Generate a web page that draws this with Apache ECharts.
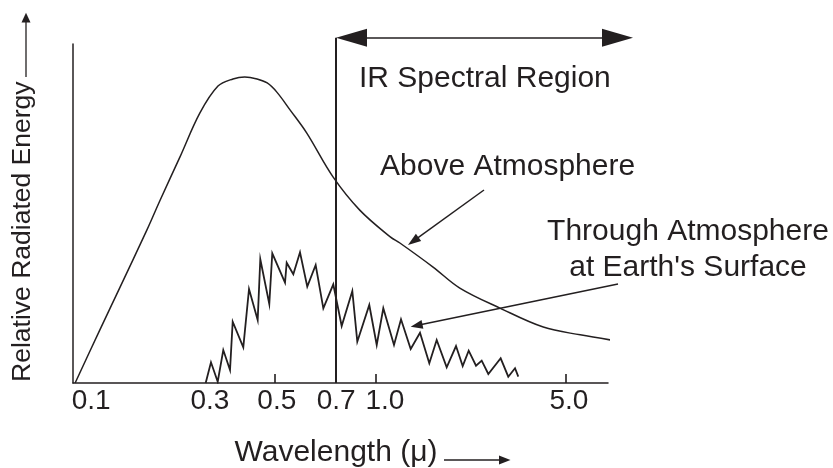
<!DOCTYPE html>
<html>
<head>
<meta charset="utf-8">
<script src="https://cdn.jsdelivr.net/npm/echarts@6/dist/echarts.min.js"></script>
<style>
html,body{margin:0;padding:0;background:#fff;}
#chart{width:833px;height:468px;}
</style>
</head>
<body>
<div id="chart"></div>
<script>
// ---- Data (schematic x position units 0..100, relative energy 0..100) ----
const aboveX = [0.4, 5.0, 8.8, 13.8, 16.3, 20.0, 23.7, 27.1, 29.9, 32.1, 34.4, 36.3, 38.1, 40.6, 43.7, 48.6, 53.6, 59.3, 61.1, 67.3, 72.3, 79.8, 87.9, 94.8, 101.7];
const aboveY = [0, 15.6, 28.3, 45.1, 54.0, 66.7, 79.6, 87.6, 89.7, 90.3, 89.7, 88.5, 85.8, 80.5, 73.7, 60.8, 51.0, 43.1, 41.3, 34.2, 28.0, 22.1, 16.5, 14.2, 12.4];

const throughX = [24.8, 25.79, 27.05, 28.09, 29.35, 29.85, 31.83, 32.90, 34.52, 35.01, 36.69, 37.25, 39.63, 39.94, 41.18, 42.43, 43.79, 45.36, 46.79, 48.65, 50.22, 52.21, 53.14, 55.38, 56.77, 58.00, 60.00, 61.31, 63.12, 64.86, 66.60, 67.98, 69.85, 71.59, 72.84, 73.96, 75.33, 76.39, 77.63, 79.94, 81.36, 82.62, 83.23];
const throughY = [0, 6.11, 0.38, 9.73, 3.83, 18.08, 10.53, 27.73, 18.58, 36.49, 23.30, 38.26, 29.59, 35.49, 32.06, 38.55, 28.41, 34.81, 22.04, 29.12, 16.81, 27.14, 12.18, 23.01, 11.21, 22.04, 11.21, 18.79, 10.03, 14.84, 5.81, 12.68, 4.63, 10.91, 5.01, 9.53, 5.10, 6.58, 2.65, 7.29, 1.86, 4.34, 1.86];

const tickLabels = ['0.1', '0.3', '0.5', '0.7', '1.0', '5.0'];
const tickLabelPos = [3.4, 25.6, 38.1, 49.2, 58.3, 92.7];
const tickMarkPos = [37.8, 56.6, 92.1];

const irBoundaryX = 49.16;   // 0.7 micron boundary
const irArrowY = 101.86;
const irArrowEnds = [52.06, 101.78];
const aboveArrow = [[76.82, 56.93], [63.60, 41.83]];
const throughArrow = [[101.87, 29.2], [64.22, 16.96]];

const INK = '#231f20';
const FONT = '"Liberation Sans", Arial, sans-serif';

// main plot: x 0..100 over 535px, y 0..100 over 339px
// annotation overlay uses same scale, extended range (x 0..105, y 0..104)
const PX_X = 5.35, PX_Y = 3.39;
const overlayXMax = 105, overlayYMax = 104;

const chart = echarts.init(document.getElementById('chart'), null, {renderer: 'canvas'});

const option = {
  animation: false,
  backgroundColor: '#ffffff',
  grid: [
    {left: 73, right: 225, top: 44, bottom: 85, containLabel: false, outerBoundsMode: 'none'},
    {left: 73, right: 833 - 73 - overlayXMax * PX_X, top: 383 - overlayYMax * PX_Y, bottom: 85, containLabel: false, outerBoundsMode: 'none'}
  ],
  xAxis: [{
    gridIndex: 0, type: 'value', min: 0, max: 100,
    axisLine: {show: true, lineStyle: {color: INK, width: 1.5}},
    axisTick: {show: true, inside: true, length: 9, customValues: tickMarkPos, lineStyle: {color: INK, width: 1.6}},
    axisLabel: {
      show: true, customValues: tickLabelPos, hideOverlap: false, margin: 4,
      color: INK, fontSize: 28, fontFamily: FONT,
      formatter: function (v) {
        const i = tickLabelPos.findIndex(p => Math.abs(p - v) < 1e-6);
        return i >= 0 ? tickLabels[i] : '';
      }
    },
    splitLine: {show: false},
    name: 'Wavelength (\u03bc)', nameLocation: 'middle', nameGap: 55, nameMoveOverlap: false,
    nameTextStyle: {color: INK, fontSize: 30, fontFamily: FONT, padding: [0, 9, 0, 0]}
  }, {
    gridIndex: 1, type: 'value', min: 0, max: overlayXMax, show: false
  }],
  yAxis: [{
    gridIndex: 0, type: 'value', min: 0, max: 100,
    axisLine: {show: true, lineStyle: {color: INK, width: 1.5}},
    axisTick: {show: false},
    axisLabel: {show: false},
    splitLine: {show: false}
  }, {
    gridIndex: 1, type: 'value', min: 0, max: overlayYMax, show: false
  }],
  series: [
    {
      name: 'Above Atmosphere', type: 'line', clip: false,
      xAxisIndex: 0, yAxisIndex: 0,
      data: aboveX.map((x, i) => [x, aboveY[i]]),
      smooth: 0.35, showSymbol: false, symbol: 'none',
      lineStyle: {color: INK, width: 1.5},
      silent: true
    },
    {
      name: "Through Atmosphere at Earth's Surface", type: 'line',
      xAxisIndex: 0, yAxisIndex: 0,
      data: throughX.map((x, i) => [x, throughY[i]]),
      smooth: false, showSymbol: false, symbol: 'none',
      lineStyle: {color: INK, width: 1.8, join: 'miter'},
      silent: true
    },
    {
      name: 'annotations', type: 'line', clip: false,
      xAxisIndex: 1, yAxisIndex: 1,
      data: [], silent: true,
      markLine: {
        silent: true, animation: false,
        label: {show: false},
        emphasis: {disabled: true},
        data: [
          [
            {coord: [irBoundaryX, 0], symbol: 'none', lineStyle: {color: INK, width: 2, type: 'solid'}},
            {coord: [irBoundaryX, irArrowY], symbol: 'none'}
          ],
          [
            {coord: [irArrowEnds[0], irArrowY], symbol: 'triangle', symbolSize: [18, 31], lineStyle: {color: INK, width: 1.5, type: 'solid'}, itemStyle: {color: INK}},
            {coord: [irArrowEnds[1], irArrowY], symbol: 'triangle', symbolSize: [18, 31], itemStyle: {color: INK}}
          ],
          [
            {coord: aboveArrow[0], symbol: 'none', lineStyle: {color: INK, width: 1.5, type: 'solid'}},
            {coord: aboveArrow[1], symbol: 'triangle', symbolSize: [9, 13], itemStyle: {color: INK}}
          ],
          [
            {coord: throughArrow[0], symbol: 'none', lineStyle: {color: INK, width: 1.5, type: 'solid'}},
            {coord: throughArrow[1], symbol: 'triangle', symbolSize: [9, 12], itemStyle: {color: INK}}
          ]
        ]
      }
    }
  ],
  graphic: [
    {type: 'text', x: 22.3, y: 231.7, rotation: Math.PI / 2,
      style: {text: 'Relative Radiated Energy', fill: INK, fontSize: 26.5, fontFamily: FONT, align: 'center', verticalAlign: 'middle'}},
    {type: 'line', shape: {x1: 26, y1: 77, x2: 26, y2: 21}, style: {stroke: INK, lineWidth: 1.3}},
    {type: 'polygon', shape: {points: [[26, 12.7], [21.5, 22.5], [30.5, 22.5]]}, style: {fill: INK}},
    {type: 'line', shape: {x1: 444, y1: 460, x2: 500, y2: 460}, style: {stroke: INK, lineWidth: 1.3}},
    {type: 'polygon', shape: {points: [[510.5, 460], [499, 455.5], [499, 464.5]]}, style: {fill: INK}},
    {type: 'text', x: 359, y: 78.6,
      style: {text: 'IR Spectral Region', fill: INK, fontSize: 30, fontFamily: FONT, align: 'left', verticalAlign: 'middle'}},
    {type: 'text', x: 380, y: 166.6,
      style: {text: 'Above Atmosphere', fill: INK, fontSize: 30, fontFamily: FONT, align: 'left', verticalAlign: 'middle'}},
    {type: 'text', x: 688, y: 231.8,
      style: {text: 'Through Atmosphere', fill: INK, fontSize: 30, fontFamily: FONT, align: 'center', verticalAlign: 'middle'}},
    {type: 'text', x: 688, y: 267.9,
      style: {text: "at Earth's Surface", fill: INK, fontSize: 30, fontFamily: FONT, align: 'center', verticalAlign: 'middle'}}
  ]
};
chart.setOption(option);
</script>
</body>
</html>
